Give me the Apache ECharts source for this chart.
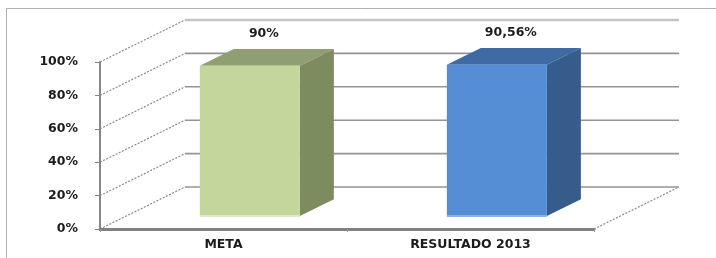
<!DOCTYPE html>
<html>
<head>
<meta charset="utf-8">
<script src="https://cdn.jsdelivr.net/npm/echarts@6.0.0/dist/echarts.min.js"></script>
<style>
  body { margin: 0; background: #fff; }
  #chart { width: 716px; height: 258px; }
</style>
</head>
<body>
<div id="chart"></div>
<script>
// dados do grafico
var categories = ['META', 'RESULTADO 2013'];
var values = [0.90, 0.9056];
var yTicks = [0, 0.2, 0.4, 0.6, 0.8, 1];

// cores das faces (frente, topo, lado, brilho da base)
var faceColors = [
    { front: '#c3d69b', top: '#8f9f71', side: '#7d8c5e', base: '#dfe8cc' },
    { front: '#558ed5', top: '#3f6aa4', side: '#365c8b', base: '#8db3e2' }
];

// deslocamento da profundidade 3d (px)
var DX = 85, DY = -42;
var BAR_FRONT = 0.31, BAR_DEPTH = 0.40;
var FONT = 'DejaVu Sans';
var TEXT = { fontSize: 12.5, fontWeight: 'bold', fontFamily: FONT, color: '#1c1c1c' };

function pct(v) {
    var n = Math.round(v * 10000) / 100;
    return String(n).replace('.', ',') + '%';
}

function renderWall(params, api) {
    var cs = params.coordSys;
    var v = api.value(1);
    var y = api.coord([0, v])[1];
    var x0 = cs.x, x1 = cs.x + cs.width;
    var children = [
        // parede lateral
        { type: 'line', shape: { x1: x0, y1: y, x2: x0 + DX, y2: y + DY },
          style: { stroke: '#8c8c8c', lineWidth: 1.2, lineDash: [2, 1.5] } },
        // parede do fundo
        { type: 'line', shape: { x1: x0 + DX, y1: y + DY, x2: x1 + DX, y2: y + DY },
          style: { stroke: v === 1 ? '#c4c4c4' : '#949494', lineWidth: v === 1 ? 2.5 : 1.6 } }
    ];
    if (v === 0) {
        // lado direito do piso
        children.push({ type: 'line', shape: { x1: x1, y1: y, x2: x1 + DX, y2: y + DY },
            style: { stroke: '#8c8c8c', lineWidth: 1.2, lineDash: [2, 1.5] } });
    }
    return { type: 'group', children: children };
}

function renderBar(params, api) {
    var idx = api.value(0), v = api.value(1);
    var top = api.coord([idx, v]);
    var base = api.coord([idx, 0]);
    var band = api.size([1, 0])[0];
    var w = band * 0.405;
    var c = faceColors[idx];
    var bx = DX * BAR_DEPTH, by = DY * BAR_DEPTH;
    var left = top[0] - w / 2 + DX * BAR_FRONT;
    var right = left + w;
    var yt = top[1] + DY * BAR_FRONT;
    var yb = base[1] + DY * BAR_FRONT;
    return {
        type: 'group',
        children: [
            { type: 'polygon', shape: { points: [[left, yt], [right, yt], [right + bx, yt + by], [left + bx, yt + by]] },
              style: { fill: c.top } },
            { type: 'polygon', shape: { points: [[right, yt], [right + bx, yt + by], [right + bx, yb + by], [right, yb]] },
              style: { fill: c.side } },
            { type: 'rect', shape: { x: left, y: yt, width: w, height: yb - yt },
              style: { fill: c.front } },
            { type: 'line', shape: { x1: left, y1: yb, x2: right, y2: yb },
              style: { stroke: c.base, lineWidth: 2 } },
            { type: 'text', style: { text: pct(v), x: (left + right) / 2 + 14, y: yt + by - 15,
              align: 'center', verticalAlign: 'middle', fontSize: TEXT.fontSize, fontWeight: TEXT.fontWeight,
              fontFamily: FONT, fill: TEXT.color } }
        ]
    };
}

var myChart = echarts.init(document.getElementById('chart'));
var option = {
    animation: false,
    backgroundColor: '#fff',
    graphic: [{
        type: 'rect', z: -10,
        shape: { x: 6.5, y: 8.5, width: 760, height: 300 },
        style: { fill: 'none', stroke: '#b0b0b0', lineWidth: 1 }
    }],
    grid: { left: 100, right: 122, top: 62, bottom: 29 },
    xAxis: {
        type: 'category',
        data: categories,
        axisLine: { lineStyle: { color: '#808080', width: 3 } },
        axisTick: { show: true, length: 3, lineStyle: { color: '#999' } },
        axisLabel: { margin: 9, fontSize: TEXT.fontSize, fontWeight: TEXT.fontWeight, fontFamily: FONT, color: TEXT.color },
        z: 1
    },
    yAxis: {
        type: 'value',
        min: 0, max: 1, interval: 0.2,
        axisLine: { show: true, lineStyle: { color: '#868686', width: 2 } },
        axisTick: { show: true, length: 5, lineStyle: { color: '#868686' } },
        axisLabel: { margin: 22, fontSize: TEXT.fontSize, fontWeight: TEXT.fontWeight, fontFamily: FONT,
                     color: TEXT.color, formatter: pct },
        splitLine: { show: false }
    },
    series: [
        {
            type: 'custom',
            renderItem: renderWall,
            data: yTicks.map(function (t) { return [0, t]; }),
            z: 0,
            silent: true
        },
        {
            type: 'custom',
            renderItem: renderBar,
            data: values.map(function (v, i) { return [i, v]; }),
            z: 5
        }
    ]
};
myChart.setOption(option);
</script>
</body>
</html>
